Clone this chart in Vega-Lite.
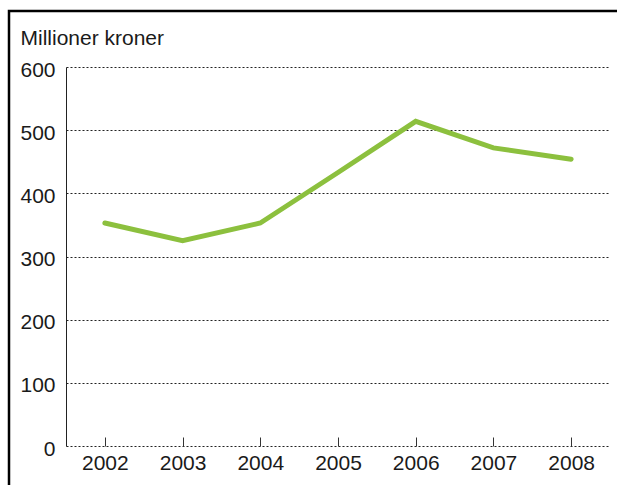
{
  "$schema": "https://vega.github.io/schema/vega-lite/v6.json",
  "autosize": {"type": "none"},
  "padding": {"left": 9, "top": 11, "right": 0, "bottom": 0},
  "width": 700,
  "height": 520,
  "background": "white",
  "config": {
    "view": {"stroke": "black", "strokeWidth": 2.5},
    "font": "Liberation Sans",
    "axis": {"labelFont": "Liberation Sans", "titleFont": "Liberation Sans", "labelColor": "#1a1a1a", "titleColor": "#1a1a1a"}
  },
  "data": {
    "values": [
      {"year": "2002", "value": 353},
      {"year": "2003", "value": 325},
      {"year": "2004", "value": 353},
      {"year": "2005", "value": 433},
      {"year": "2006", "value": 514},
      {"year": "2007", "value": 472},
      {"year": "2008", "value": 454}
    ]
  },
  "mark": {"type": "line", "color": "#8cc03e", "strokeWidth": 5, "strokeCap": "round", "strokeJoin": "miter"},
  "encoding": {
    "x": {
      "field": "year",
      "type": "ordinal",
      "scale": {"type": "point", "padding": 0.5, "range": [57, 601]},
      "axis": {
        "title": null,
        "orient": "bottom",
        "offset": -85,
        "domain": false,
        "grid": false,
        "ticks": true,
        "tickSize": -9,
        "tickColor": "#333333",
        "tickWidth": 1,
        "labelFontSize": 21,
        "labelPadding": 15,
        "labelAngle": 0
      }
    },
    "y": {
      "field": "value",
      "type": "quantitative",
      "scale": {"domain": [0, 600], "range": [435, 56], "nice": false, "zero": true},
      "axis": {
        "title": "Millioner kroner",
        "titleAngle": 0,
        "titleAlign": "left",
        "titleBaseline": "alphabetic",
        "titleX": -46,
        "titleY": 33,
        "titleFontSize": 21,
        "titleFontWeight": "normal",
        "orient": "left",
        "offset": -57,
        "values": [0, 100, 200, 300, 400, 500, 600],
        "domain": true,
        "domainColor": "#222222",
        "domainWidth": 1,
        "ticks": false,
        "labelFontSize": 21,
        "labelPadding": 11,
        "labelOffset": 3,
        "grid": true,
        "gridColor": "#222222",
        "gridWidth": 1,
        "gridDash": [2, 2]
      }
    }
  }
}
